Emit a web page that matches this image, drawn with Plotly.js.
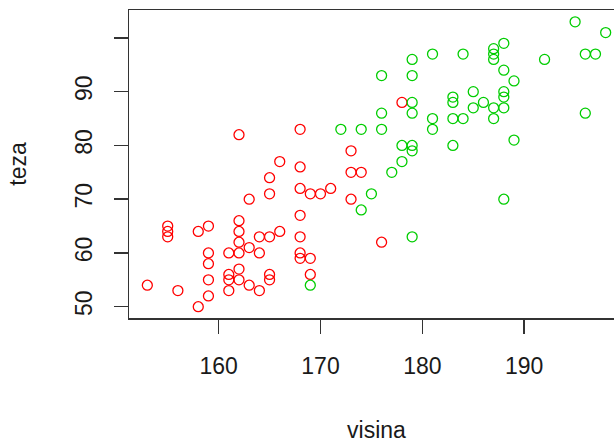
<!DOCTYPE html>
<html>
<head>
<meta charset="utf-8">
<script src="https://cdn.plot.ly/plotly-3.0.1.min.js"></script>
<style>
html,body{margin:0;padding:0;overflow:hidden;background:#fff;}
#chart{width:640px;height:443px;}
</style>
</head>
<body>
<div id="chart"></div>
<script>
// red group
const redVisina = [153,155,155,155,156,158,158,159,159,159,159,159,161,161,161,161,162,162,162,162,162,162,162,163,163,163,164,164,164,165,165,165,165,165,166,166,168,168,168,168,168,168,168,169,169,169,170,171,173,173,173,174,176,178];
const redTeza   = [54,65,64,63,53,64,50,65,60,58,55,52,60,56,55,53,82,66,64,62,60,57,55,70,61,54,63,60,53,74,71,63,56,55,77,64,83,76,72,67,63,60,59,71,59,56,71,72,79,75,70,75,62,88];
// green group
const greenVisina = [169,172,174,174,175,176,176,176,177,178,178,179,179,179,179,179,179,179,181,181,181,183,183,183,183,184,184,185,185,186,187,187,187,187,187,188,188,188,188,188,188,189,189,192,195,196,196,197,198];
const greenTeza   = [54,83,83,68,71,93,86,83,75,80,77,96,93,88,86,80,79,63,97,85,83,89,88,85,80,97,85,90,87,88,98,97,96,87,85,99,94,90,89,87,70,92,81,96,103,97,86,97,101];

const xTicks = [160,170,180,190];
const yTicks = [50,60,70,80,90,100];
const yTickText = ['50','60','70','80','90',''];

const FONT = 'Liberation Sans, Arial, sans-serif';
const mk = (c) => ({symbol:'circle-open', size:10, color:c, line:{width:1.3, color:c}});

const data = [
  {x: redVisina, y: redTeza, type:'scatter', mode:'markers', marker: mk('#FF0000'), hoverinfo:'x+y'},
  {x: greenVisina, y: greenTeza, type:'scatter', mode:'markers', marker: mk('#00CD00'), hoverinfo:'x+y'}
];

const layout = {
  width: 640, height: 443,
  margin: {l:129, r:16, t:10, b:125},
  showlegend: false,
  paper_bgcolor:'#fff', plot_bgcolor:'#fff',
  font: {family: FONT, size: 23, color:'#1a1a1a'},
  xaxis: {
    range:[151.2, 199.8], showgrid:false, zeroline:false,
    showline:true, mirror:true, linecolor:'#333', linewidth:1.5,
    ticks:'outside', ticklen:14, tickwidth:1.5, tickcolor:'#333',
    tickvals: xTicks, ticktext: xTicks.map(String),
    ticklabelstandoff: 13,
    title:{text:'visina', font:{family:FONT, size:23}, standoff: 46},
    automargin:false
  },
  yaxis: {
    range:[47.9, 105.2], showgrid:false, zeroline:false,
    showline:true, mirror:true, linecolor:'#333', linewidth:1.5,
    ticks:'outside', ticklen:14, tickwidth:1.5, tickcolor:'#333',
    tickvals: yTicks, ticktext: yTickText, tickangle:-90,
    ticklabelstandoff: 12,
    title:{text:'teza', font:{family:FONT, size:23}, standoff: 38},
    automargin:false
  }
};

Plotly.newPlot('chart', data, layout, {displayModeBar:false, staticPlot:true});
</script>
</body>
</html>
